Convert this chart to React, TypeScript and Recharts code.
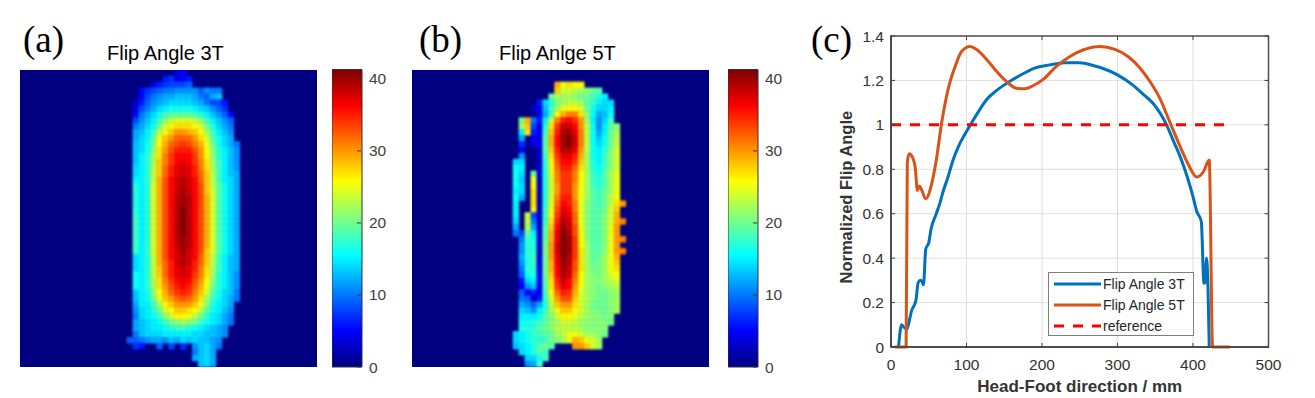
import { BarChart, Bar, CartesianGrid, Line, LineChart, ReferenceArea, Scatter, ScatterChart, XAxis, YAxis } from 'recharts';

const SANS = '"Liberation Sans", Arial, sans-serif';
const SERIF = '"Liberation Serif", "Times New Roman", serif';

// heat maps: each row is one 2-unit strip of the 100x100 image, values in flip angle degrees
const map3TFirstCol = 18;
const map3TRows = [
  [0,0,0,0,0,0,0,0,4,5,0,0,0,0,0,0,0,0,0],
  [0,0,0,0,0,0,6,7,4,5,6,0,0,0,0,0,0,0,0],
  [0,0,0,0,4,6,7,8,8,8,9,0,0,0,0,0,0,0,0],
  [0,0,5,7,8,9,10,10,11,11,11,11,9,11,10,10,0,0,0],
  [0,0,5,8,10,11,12,12,13,13,13,12,10,9,12,13,0,0,0],
  [0,3,6,9,11,12,13,14,14,14,14,13,12,10,8,8,6,0,0],
  [0,4,8,10,12,14,15,16,16,16,16,15,14,13,11,9,7,0,0],
  [0,5,10,12,14,16,18,19,19,19,19,18,17,15,13,11,9,5,0],
  [0,8,11,13,15,18,21,23,24,24,24,23,21,18,15,13,11,9,0],
  [0,10,12,14,16,20,24,26,27,27,27,26,24,20,17,14,12,10,0],
  [0,12,13,15,18,23,26,28,30,30,29,28,26,22,18,15,13,11,0],
  [0,12,14,15,19,25,28,30,32,32,32,30,27,24,19,16,14,12,0],
  [0,13,14,16,20,26,29,32,33,34,33,31,29,25,20,16,14,12,10],
  [0,13,14,16,21,27,30,33,35,35,35,33,30,26,21,17,15,13,11],
  [0,13,15,17,22,27,31,34,36,36,36,34,30,26,21,17,15,13,11],
  [0,13,15,17,22,28,31,34,36,37,36,34,31,27,22,18,15,13,11],
  [0,14,15,17,23,28,32,35,37,38,37,35,31,27,22,18,15,13,11],
  [0,14,15,17,23,28,32,35,37,38,37,35,32,28,23,18,15,13,12],
  [0,15,15,17,23,29,33,36,38,39,38,36,32,28,23,18,15,14,12],
  [0,17,15,17,24,29,33,36,38,39,38,36,33,28,23,19,16,14,12],
  [0,17,15,17,24,29,33,36,38,40,38,36,33,28,24,19,16,14,12],
  [0,17,15,17,24,29,33,36,39,40,39,36,33,29,24,19,16,14,12],
  [0,17,15,17,24,29,33,36,39,40,39,36,33,29,24,19,16,14,12],
  [0,17,15,17,24,29,33,36,39,41,39,36,33,29,24,19,16,14,12],
  [0,18,15,17,24,29,33,36,39,41,39,36,33,29,24,19,16,14,12],
  [0,18,15,17,24,29,33,36,39,41,39,36,33,29,24,19,16,14,12],
  [0,18,15,17,24,29,33,36,39,41,39,36,33,29,24,19,16,14,12],
  [0,18,15,17,24,29,33,36,39,41,39,36,33,29,24,19,16,14,12],
  [0,18,15,17,24,29,33,36,39,40,39,36,33,29,24,19,16,14,12],
  [0,18,15,17,24,29,33,36,39,40,39,36,33,29,24,19,16,14,12],
  [0,18,15,17,24,29,33,36,38,40,38,36,33,28,24,19,16,14,12],
  [0,14,15,17,23,29,33,36,38,39,38,36,32,28,23,18,15,13,12],
  [0,14,15,17,23,29,32,35,38,39,38,35,32,28,23,18,15,13,12],
  [0,14,15,17,23,28,32,35,37,38,37,35,31,27,22,18,15,13,12],
  [0,16,15,17,23,28,32,35,37,38,37,34,31,27,22,17,15,13,11],
  [0,16,15,17,22,27,31,34,36,37,36,33,30,26,21,17,15,13,11],
  [0,16,15,17,22,27,30,33,35,36,35,32,29,25,20,17,15,13,11],
  [0,13,15,16,21,26,29,32,34,35,34,31,28,24,19,16,14,13,10],
  [0,13,15,16,20,25,28,30,32,33,32,30,27,22,18,16,14,12,10],
  [0,12,15,15,18,22,26,28,30,30,30,28,25,21,17,15,14,12,0],
  [0,11,14,15,17,20,24,26,28,28,27,26,23,19,16,15,13,11,0],
  [0,10,14,15,16,18,21,24,26,26,25,23,20,17,15,14,12,10,0],
  [0,12,13,14,15,16,18,20,21,22,21,20,18,16,15,14,12,10,0],
  [0,12,13,14,15,15,16,17,18,18,17,16,15,14,13,12,11,0,0],
  [0,10,13,14,14,14,15,15,15,15,15,14,14,13,13,12,11,0,0],
  [9,9,10,11,12,12,11,13,12,14,13,14,13,13,12,11,0,0,0],
  [0,7,6,0,0,9,0,8,0,7,0,11,13,14,12,10,0,0,0],
  [0,0,0,0,0,0,0,0,0,0,0,10,13,14,12,0,0,0,0],
  [0,0,0,0,0,0,0,0,0,0,0,12,13,14,12,0,0,0,0],
  [0,0,0,0,0,0,0,0,0,0,0,0,13,14,12,0,0,0,0],
];

const map5TFirstCol = 17;
const map5TRows = [
  [0,0,0,0,0,0,0,0,0,0,0,0,0,0,0,0,0,0,0],
  [0,0,0,0,0,0,0,0,0,0,0,0,0,0,0,0,0,0,0],
  [0,0,0,0,0,0,0,29,25,27,26,26,0,0,0,0,0,0,0],
  [0,0,0,0,0,0,0,28,24,24,23,22,21,20,19,0,0,0,0],
  [0,0,0,0,0,0,20,22,22,22,21,20,20,18,17,15,0,0,0],
  [0,0,0,0,6,14,17,21,22,23,23,22,19,18,15,14,14,0,0],
  [0,0,0,3,5,13,18,22,25,26,26,24,20,16,14,14,15,0,0],
  [0,0,0,0,5,12,18,26,29,31,31,27,21,16,12,13,16,0,0],
  [0,20,29,10,6,15,24,31,35,36,34,30,22,15,11,14,18,0,0],
  [0,22,28,8,5,17,27,34,38,38,36,30,23,16,11,15,19,21,0],
  [0,15,27,6,5,18,28,35,39,40,37,31,23,16,12,15,20,22,0],
  [0,12,0,5,4,19,29,36,40,41,38,31,23,16,13,16,20,23,0],
  [0,7,0,4,5,19,29,36,40,41,38,31,23,16,14,16,20,23,0],
  [0,5,0,0,3,19,28,35,39,39,37,30,23,16,15,17,21,24,0],
  [0,11,0,0,3,18,27,34,37,37,35,29,22,16,15,18,21,24,0],
  [14,14,0,0,3,17,26,33,36,36,34,28,22,17,15,18,21,24,0],
  [16,15,0,0,3,17,25,32,35,35,32,27,22,17,16,18,21,24,0],
  [16,14,0,20,4,17,25,31,34,34,31,26,22,18,16,19,22,25,0],
  [16,13,0,25,3,17,24,31,34,34,31,26,22,18,17,19,22,25,0],
  [16,14,0,26,3,17,24,30,34,34,30,26,22,18,17,19,22,25,0],
  [15,14,0,27,3,17,24,30,34,34,30,25,22,19,18,20,22,25,0],
  [16,12,0,27,2,17,24,31,35,35,30,25,22,19,18,20,23,26,0],
  [15,0,0,27,2,17,25,32,36,35,31,25,21,19,18,20,23,27,30],
  [15,0,0,26,3,18,25,33,37,36,31,25,21,19,19,20,24,28,0],
  [15,0,24,8,3,18,26,34,38,37,32,25,21,19,19,21,24,29,0],
  [14,0,23,10,3,18,27,35,39,38,32,25,21,19,19,21,24,29,31],
  [12,0,23,12,3,19,28,36,40,38,33,25,21,19,19,21,25,30,0],
  [10,8,20,15,3,19,29,37,41,39,33,26,21,19,19,21,25,30,0],
  [0,10,18,16,3,19,29,37,41,40,34,26,21,19,19,21,25,30,31],
  [0,11,17,17,3,20,30,38,41,40,34,26,22,19,19,21,25,30,0],
  [0,11,17,17,3,20,30,38,41,40,34,27,22,19,19,21,25,30,31],
  [0,12,17,18,4,20,30,37,41,39,34,27,22,19,20,22,25,29,0],
  [0,11,16,18,4,20,29,37,40,39,33,27,22,20,20,22,25,28,0],
  [0,10,17,17,4,20,29,36,40,38,33,27,22,20,20,22,25,27,0],
  [0,9,16,17,5,20,28,36,39,38,32,26,22,21,20,22,24,26,0],
  [0,6,14,15,5,19,27,35,38,36,31,26,22,21,21,22,23,24,0],
  [0,5,11,13,4,19,27,34,37,36,30,25,22,21,20,21,22,23,0],
  [0,9,5,6,5,18,26,32,35,34,29,24,22,21,20,20,21,22,0],
  [0,10,9,3,6,18,24,30,33,33,28,24,22,21,20,20,21,22,0],
  [0,12,11,9,12,17,23,28,30,30,27,24,22,20,20,20,21,22,0],
  [0,14,13,11,15,18,22,25,28,28,26,24,22,21,20,20,21,22,0],
  [0,15,15,15,16,19,21,24,26,26,25,23,22,21,21,20,21,0,0],
  [0,16,16,17,18,19,21,22,24,24,23,22,21,21,21,21,20,0,0],
  [0,17,17,17,19,20,21,23,23,23,23,22,21,21,21,21,0,0,0],
  [14,15,16,18,18,19,20,22,23,25,25,24,22,22,21,20,0,0,0],
  [14,15,16,17,17,18,20,21,22,25,29,28,25,24,22,0,0,0,0],
  [13,14,15,17,19,20,19,0,0,0,30,30,28,24,22,0,0,0,0],
  [0,14,15,17,19,18,0,0,0,0,0,0,0,0,0,0,0,0,0],
  [0,0,14,14,16,18,0,0,0,0,0,0,0,0,0,0,0,0,0],
  [0,0,11,12,18,0,0,0,0,0,0,0,0,0,0,0,0,0,0],
];

// colour bar
const colorbarTicks = [0, 10, 20, 30, 40];
const colorbarTop = [{ name: 'range', top: 41.3 }];
const jetStops = [
  [0, '#00007F'], [0.125, '#0000FF'], [0.375, '#00FFFF'],
  [0.625, '#FFFF00'], [0.875, '#FF0000'], [1, '#7F0000'],
];

// panel (c)
const flip3T = [
  [10, 0], [14, 0.1], [17, 0.09], [21, 0.08], [25, 0.13], [27, 0.16], [33, 0.21], [36, 0.29], [39, 0.3], [41, 0.295],
  [43, 0.28], [46, 0.44], [50, 0.47], [53, 0.53], [60, 0.6], [65, 0.65], [69, 0.7], [75, 0.76], [82, 0.84],
  [89, 0.9], [96, 0.947], [100, 0.97], [107, 1.01], [115, 1.055], [127, 1.115], [140, 1.155], [150, 1.18], [157, 1.195], [175, 1.23],
  [190, 1.255], [210, 1.27], [230, 1.28], [250, 1.28], [270, 1.265], [280, 1.255], [300, 1.225], [320, 1.18],
  [335, 1.135], [347, 1.097], [365, 1.0], [375, 0.92], [383, 0.857], [392, 0.77], [400, 0.677], [405, 0.61],
  [411, 0.565], [414.5, 0.287], [416, 0.29], [418, 0.4], [421.5, 0],
];
const flip5T = [
  [5, 0], [20, 0], [21.6, 0.83], [24, 0.87], [29, 0.85], [32, 0.81], [35, 0.705], [37.5, 0.725], [40.6, 0.707],
  [46, 0.667], [54, 0.737], [60, 0.842], [67, 1.007], [76, 1.165], [85, 1.263], [93.5, 1.33], [104.6, 1.353],
  [113, 1.34], [127, 1.293], [140, 1.24], [153, 1.195], [166, 1.165], [177, 1.162], [188, 1.176], [202, 1.206],
  [219, 1.263], [237, 1.308], [255, 1.338], [277, 1.353], [296.6, 1.34], [314, 1.308], [330, 1.255], [343, 1.195],
  [356, 1.12], [369, 1.015], [383, 0.902], [394, 0.82], [405, 0.765], [414, 0.79], [421.5, 0.842], [426, 0], [449, 0],
];
const referenceLine = [[0, 1], [444, 1]];
const xTicks = [0, 100, 200, 300, 400, 500];
const yTicks = [0, 0.2, 0.4, 0.6, 0.8, 1, 1.2, 1.4];

const toPoints = (pairs: number[][]) => pairs.map(([x, y]) => ({ x, y }));

function jet(v: number) {
  const t = Math.min(1, v / 41.3);
  const ramp = (c: number) => Math.round(255 * Math.max(0, Math.min(1, 1.5 - Math.abs(4 * t - c))));
  return `rgb(${ramp(3)},${ramp(2)},${ramp(1)})`;
}

function toCells(rows: number[][], firstCol: number) {
  const cells: { col: number; row: number; v: number }[] = [];
  rows.forEach((r, j) => r.forEach((v, i) => {
    if (v > 0) cells.push({ col: (firstCol + i) * 2 + 1, row: j * 2 + 1, v });
  }));
  return cells;
}

const HeatCell = (props: any) => (
  <rect x={props.cx - 3.2} y={props.cy - 3.2} width={6.4} height={6.4} fill={jet(props.payload.v)} />
);

function HeatMap({ rows, firstCol, left }: { rows: number[][]; firstCol: number; left: number }) {
  return (
    <div style={{ position: 'absolute', left, top: 70 }}>
      <style>{'.heat-cells { filter: blur(1.2px); }'}</style>
      <ScatterChart width={297} height={297} margin={{ top: 0, right: 0, bottom: 0, left: 0 }}>
        <XAxis type="number" dataKey="col" domain={[0, 100]} hide />
        <YAxis type="number" dataKey="row" domain={[0, 100]} reversed hide />
        <ReferenceArea x1={0} x2={100} y1={0} y2={100} fill={jet(0)} fillOpacity={1} stroke="none" />
        <Scatter className="heat-cells" data={toCells(rows, firstCol)} shape={HeatCell} isAnimationActive={false} />
      </ScatterChart>
    </div>
  );
}

const ColorbarTick = ({ x, y, payload }: any) => (
  <g>
    <line x1={x - 5} x2={x - 1} y1={y} y2={y} stroke="#333" strokeWidth={1} />
    <text x={x + 7} y={y + 5.5} fontFamily={SANS} fontSize={15.5} fill="#404040">{payload.value}</text>
  </g>
);

function Colorbar({ left }: { left: number }) {
  return (
    <div style={{ position: 'absolute', left, top: 60 }}>
      <BarChart width={66} height={320} data={colorbarTop} barCategoryGap={0}
        margin={{ top: 9.5, right: 0, bottom: 13, left: 0 }}>
        <defs>
          <linearGradient id={`jet${left}`} x1="0" y1="1" x2="0" y2="0">
            {jetStops.map(([o, c]) => <stop key={o} offset={o as number} stopColor={c as string} />)}
          </linearGradient>
        </defs>
        <XAxis dataKey="name" hide />
        <YAxis orientation="right" width={36} domain={[0, 41.3]} ticks={colorbarTicks} interval={0}
          axisLine={false} tickLine={false} tickSize={0} tickMargin={0} tick={ColorbarTick} />
        <Bar dataKey="top" fill={`url(#jet${left})`} stroke="#333" strokeWidth={1} isAnimationActive={false} />
      </BarChart>
    </div>
  );
}

const XTick = ({ x, y, payload }: any) => (
  <g>
    <line x1={x} x2={x} y1={y} y2={y - 4} stroke="#404040" />
    <line x1={x} x2={x} y1={y - 311} y2={y - 307} stroke="#404040" />
    <text x={x} y={y + 23} textAnchor="middle" fontFamily={SANS} fontSize={15.5} fill="#333">{payload.value}</text>
  </g>
);

const YTick = ({ x, y, payload }: any) => (
  <g>
    <line x1={x} x2={x + 4} y1={y} y2={y} stroke="#404040" />
    <line x1={x + 377.5} x2={x + 373.5} y1={y} y2={y} stroke="#404040" />
    <text x={x - 7} y={y + 5.5} textAnchor="end" fontFamily={SANS} fontSize={15.5} fill="#333">{payload.value}</text>
  </g>
);

const legendRows = [
  { label: 'Flip Angle 3T', color: '#0072BD', dash: undefined },
  { label: 'Flip Angle 5T', color: '#D95319', dash: undefined },
  { label: 'reference', color: '#FF0000', dash: '10 9' },
];

const FlipLegend = () => (
  <div style={{ position: 'absolute', left: 1048, top: 272, width: 144, height: 62, background: '#fff', border: '1px solid #7f7f7f', fontFamily: SANS, fontSize: 14, color: '#262626' }}>
    {legendRows.map(r => (
      <div key={r.label} style={{ display: 'flex', alignItems: 'center', height: 20, marginTop: 1 }}>
        <svg width={50} height={6} style={{ marginLeft: 4 }}>
          <line x1={1} x2={48} y1={3} y2={3} stroke={r.color} strokeWidth={3} strokeDasharray={r.dash} />
        </svg>
        <span>{r.label}</span>
      </div>
    ))}
  </div>
);

function FlipProfile() {
  return (
    <div style={{ position: 'absolute', left: 830, top: 20 }}>
      <LineChart width={470} height={378} margin={{ top: 16, right: 31.5, bottom: 0, left: 0 }}>
        <CartesianGrid stroke="#dfdfdf" horizontalValues={yTicks} verticalValues={xTicks} />
        <XAxis type="number" dataKey="x" domain={[0, 500]} ticks={xTicks} interval={0} height={51}
          axisLine={{ stroke: '#404040', strokeWidth: 1.5 }} tickLine={false} tickSize={0} tickMargin={0} tick={XTick}
          label={{ value: 'Head-Foot direction / mm', position: 'insideBottom', offset: 6, fontFamily: SANS, fontSize: 17, fontWeight: 700, fill: '#333' }} />
        <YAxis type="number" dataKey="y" domain={[0, 1.4]} ticks={yTicks} interval={0} width={61}
          axisLine={{ stroke: '#404040', strokeWidth: 1.5 }} tickLine={false} tickSize={0} tickMargin={0} tick={YTick}
          label={{ value: 'Normalized Flip Angle', angle: -90, position: 'insideLeft', offset: 16, dy: 92, fontFamily: SANS, fontSize: 16.5, fontWeight: 700, fill: '#333' }} />
        <ReferenceArea x1={0} x2={500} y1={0} y2={1.4} fill="none" stroke="#505050" strokeWidth={1.5} />
        <Line type="monotone" data={toPoints(flip3T)} dataKey="y" name="Flip Angle 3T" stroke="#0072BD" strokeWidth={3} dot={false} isAnimationActive={false} />
        <Line type="monotone" data={toPoints(flip5T)} dataKey="y" name="Flip Angle 5T" stroke="#D95319" strokeWidth={3} dot={false} isAnimationActive={false} />
        <Line data={toPoints(referenceLine)} dataKey="y" name="reference" stroke="#FF0000" strokeWidth={3} strokeDasharray="10 9" dot={false} isAnimationActive={false} />
      </LineChart>
    </div>
  );
}

const Label = ({ x, y, size, family, children }: any) => (
  <div style={{ position: 'absolute', left: x, top: y, fontFamily: family, fontSize: size, lineHeight: 1, whiteSpace: 'nowrap', color: '#000' }}>{children}</div>
);

export default function App() {
  return (
    <div style={{ position: 'absolute', left: 0, top: 0, width: 1315, height: 398, overflow: 'hidden', background: '#fff' }}>
      <Label x={23} y={21} size={37} family={SERIF}>(a)</Label>
      <Label x={419} y={21} size={37} family={SERIF}>(b)</Label>
      <Label x={811} y={21} size={37} family={SERIF}>(c)</Label>
      <Label x={107} y={43} size={20} family={SANS}>Flip Angle 3T</Label>
      <Label x={499} y={43} size={20} family={SANS}>Flip Anlge 5T</Label>
      <HeatMap rows={map3TRows} firstCol={map3TFirstCol} left={20} />
      <HeatMap rows={map5TRows} firstCol={map5TFirstCol} left={412} />
      <Colorbar left={332} />
      <Colorbar left={728} />
      <FlipProfile />
      <FlipLegend />
    </div>
  );
}
